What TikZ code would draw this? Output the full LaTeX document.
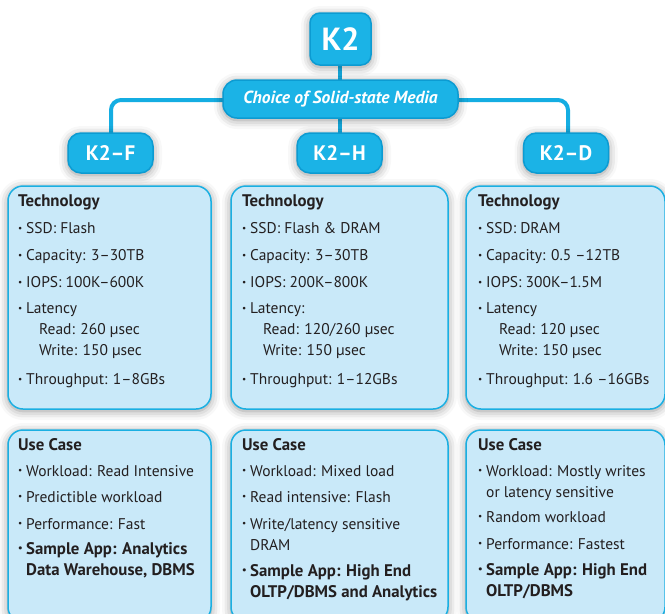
\documentclass[tikz,border=0pt]{standalone}
\usepackage{fontspec}
\setmainfont{PT Sans}
\usetikzlibrary{shadows.blur}
\definecolor{cyanbox}{HTML}{1BB3E6}
\definecolor{cyanedge}{HTML}{0C9BD2}
\definecolor{lightfill}{HTML}{C9E9F9}
\definecolor{lightedge}{HTML}{1AAFE2}
\definecolor{linec}{HTML}{14ADE2}
\definecolor{txt}{HTML}{231F20}
\newcommand\bul{\makebox[8pt][l]{\raisebox{0.3ex}{\scalebox{0.6}{\textbullet}}}}
\newcommand\cont{\hspace*{8pt}}
\newcommand\subl{\hspace*{21pt}}
\newcommand\hb[1]{{\fontsize{16.8}{21}\selectfont\bfseries #1}}
\tikzset{
  softshadow/.style={blur shadow={shadow xshift=0pt, shadow yshift=-2pt, shadow blur radius=9pt, shadow opacity=42}},
  hub/.style={fill=cyanbox, draw=cyanedge, line width=1.5pt, rounded corners=10pt, text=white,
    font=\fontsize{32}{34}\selectfont\bfseries, minimum width=61pt, minimum height=52pt, inner sep=0pt, softshadow},
  choicebox/.style={fill=cyanbox, draw=cyanedge, line width=1.5pt, rounded corners=14pt, text=white,
    font=\fontsize{17.5}{19}\selectfont\bfseries\itshape, minimum width=235pt, minimum height=38pt, inner sep=0pt, softshadow},
  branch/.style={fill=cyanbox, draw=cyanedge, line width=1.5pt, rounded corners=13pt, text=white,
    font=\fontsize{21}{23}\selectfont\bfseries, minimum width=85pt, minimum height=40pt, inner sep=0pt, softshadow},
  panel/.style={fill=lightfill, draw=lightedge, line width=1.5pt, rounded corners=15pt, inner sep=0pt, softshadow},
  panelText/.style={anchor=north west, align=left, inner sep=0pt, text=txt,
    font=\fontsize{15.5}{21}\selectfont},
  conn/.style={draw=linec, line width=4pt, rounded corners=10pt},
}
\begin{document}
\begin{tikzpicture}[x=1pt,y=-1pt]
\useasboundingbox (0,0) rectangle (665,614);
\clip (0,0) rectangle (665,614);
% panels
\node[panel, minimum width=203pt, minimum height=223pt] (tech1) at (109.5,297.5) {};
\node[panel, minimum width=217pt, minimum height=223pt] (tech2) at (339.5,297.5) {};
\node[panel, minimum width=199pt, minimum height=223pt] (tech3) at (565.5,297.5) {};
\node[panel, minimum width=203pt, minimum height=192pt] (use1) at (109.5,526) {};
\node[panel, minimum width=217pt, minimum height=192pt] (use2) at (339.5,526) {};
\node[panel, minimum width=199pt, minimum height=192pt] (use3) at (565.5,526) {};
% connectors
\draw[conn] (340,60) -- (340,135);
\draw[conn] (225,100) -| (111,135);
\draw[conn] (455,100) -| (568,135);
% hub nodes
\node[hub] (k2) at (340.5,39) {K2};
\node[choicebox] (choice) at (340.5,99) {Choice of Solid-state Media};
\node[branch] (kf) at (110.5,153) {K2–F};
\node[branch] (kh) at (339.5,153) {K2–H};
\node[branch] (kd) at (566,153) {K2–D};
% panel texts
\node[panelText] (t1) at (18,195) {\hb{Technology}\\[5.5pt]
\bul SSD: Flash\\[6.5pt]
\bul Capacity: 3–30TB\\[5.5pt]
\bul IOPS: 100K–600K\\[5.5pt]
\bul Latency\\
\subl Read: 260 µsec\\
\subl Write: 150 µsec\\[7.5pt]
\bul Throughput: 1–8GBs};
\node[panelText] (t2) at (242,195) {\hb{Technology}\\[5.5pt]
\bul SSD: Flash \& DRAM\\[6.5pt]
\bul Capacity: 3–30TB\\[5.5pt]
\bul IOPS: 200K–800K\\[5.5pt]
\bul Latency:\\
\subl Read: 120/260 µsec\\
\subl Write: 150 µsec\\[7.5pt]
\bul Throughput: 1–12GBs};
\node[panelText] (t3) at (478,195) {\hb{Technology}\\[5.5pt]
\bul SSD: DRAM\\[6.5pt]
\bul Capacity: 0.5 –12TB\\[5.5pt]
\bul IOPS: 300K–1.5M\\[5.5pt]
\bul Latency\\
\subl Read: 120 µsec\\
\subl Write: 150 µsec\\[7.5pt]
\bul Throughput: 1.6 –16GBs};
\node[panelText] (u1) at (18,438) {\hb{Use Case}\\[5pt]
\bul Workload: Read Intensive\\[5pt]
\bul Predictible workload\\[6pt]
\bul Performance: Fast\\[4pt]
\hb{\bul Sample App: Analytics}\\
\hb{\cont Data Warehouse, DBMS}};
\node[panelText] (u2) at (242,438) {\hb{Use Case}\\[5pt]
\bul Workload: Mixed load\\[5pt]
\bul Read intensive: Flash\\[6pt]
\bul Write/latency sensitive\\
\cont DRAM\\[5pt]
\hb{\bul Sample App: High End}\\
\hb{\cont OLTP/DBMS and Analytics}};
\node[panelText] (u3) at (478,438) {\hb{Use Case}\\[5pt]
\bul Workload: Mostly writes\\
\cont or latency sensitive\\[4pt]
\bul Random workload\\[6pt]
\bul Performance: Fastest\\[5pt]
\hb{\bul Sample App: High End}\\
\hb{\cont OLTP/DBMS}};
\end{tikzpicture}
\end{document}
